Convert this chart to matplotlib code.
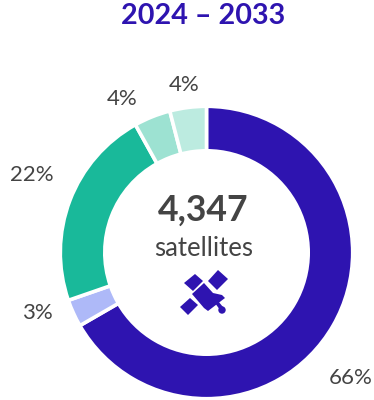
import matplotlib
matplotlib.use("Agg")
import matplotlib.pyplot as plt
from matplotlib.patches import Polygon, Circle

shares = [66, 3, 22, 4, 4]
share_labels = ["66%", "3%", "22%", "4%", "4%"]
colors = ["#2E14B0", "#AEB9F8", "#19B99A", "#9DE2D2", "#BCEBE0"]
title = "2024 – 2033"
total = "4,347"
unit = "satellites"

FONT = "Lato"
INK = "#444444"
VIOLET = "#2E14B0"

fig = plt.figure(figsize=(3.74, 4.0), dpi=100)
ax = fig.add_axes([0, 0, 1, 1], frame_on=False)

wedges, _ = ax.pie(
    shares, colors=colors, startangle=90, counterclock=False,
    center=(206.5, 147.5), radius=146.2, frame=True,
    wedgeprops=dict(width=44.5, edgecolor="white", linewidth=2.6),
)
ax.set_xlim(0, 374)
ax.set_ylim(0, 400)
ax.axis("off")

label_xy = [(351, 22), (37, 87), (32, 225), (122, 301), (184, 315)]
for text, (x, y) in zip(share_labels, label_xy):
    ax.text(x, y, text, ha="center", va="center", fontsize=16, color=INK, family=FONT)

ax.text(203, 384, title, ha="center", va="center", fontsize=20.7,
        fontweight="bold", color=VIOLET, family=FONT)
ax.text(203, 190, total, ha="center", va="center", fontsize=25.7,
        fontweight="bold", color=INK, family=FONT)
ax.text(204, 151, unit, ha="center", va="center", fontsize=18.5, color=INK, family=FONT)

# Satellite glyph: solar panels, flared body, strut and dish
glyph = [
    [(218, 270), (228, 279), (217, 290), (208, 281)],
    [(195, 274), (203, 281), (193, 291), (184, 283)],
    [(190, 298), (198, 305), (188, 315), (180, 307)],
    [(204, 283), (192, 294), (204, 308), (208, 311), (225, 298), (222, 295), (213, 293)],
    [(215, 303), (218, 301), (223, 307), (220, 310)],
]
for pts in glyph:
    ax.add_patch(Polygon([(x, 400 - y) for x, y in pts], closed=True, color=VIOLET, lw=0))
ax.add_patch(Circle((222, 400 - 310), 3.7, color=VIOLET, lw=0))

fig.savefig("out.png", dpi=100)
